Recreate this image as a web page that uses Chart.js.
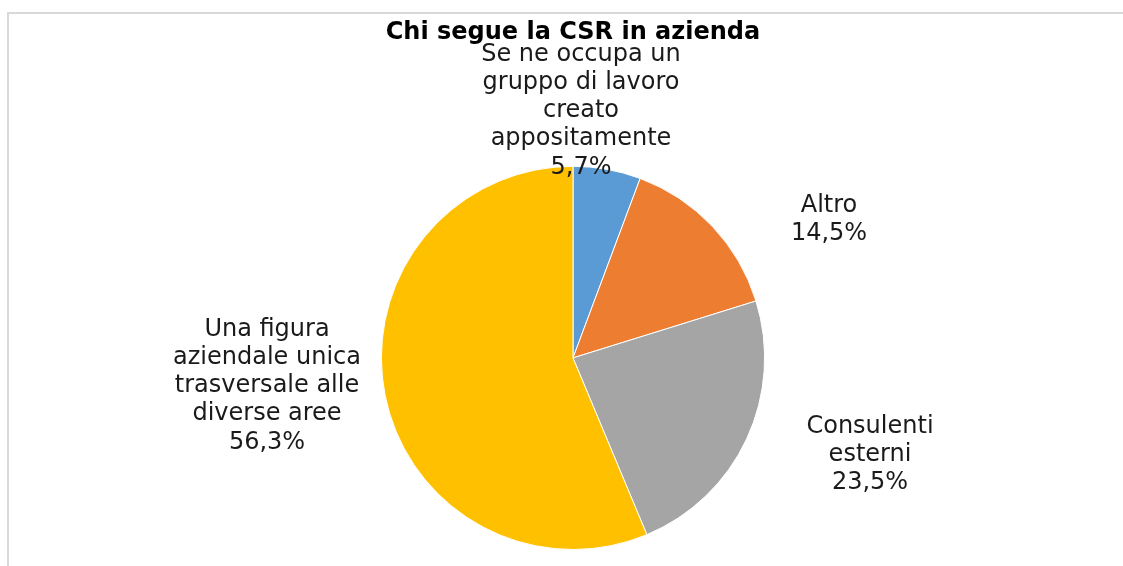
<!DOCTYPE html>
<html>
<head>
<meta charset="utf-8">
<script src="https://cdn.jsdelivr.net/npm/chart.js@4.4.0/dist/chart.umd.min.js"></script>
<style>
    html, body { margin: 0; padding: 0; background: #fff; overflow: hidden; }
    #frame { position: absolute; left: 7px; top: 12px; width: 1200px; height: 600px; border: 2px solid #d9d9d9; }
    #wrap { position: absolute; left: 0; top: 0; width: 1123px; height: 566px; }
</style>
</head>
<body>
<div id="frame"></div>
<div id="wrap"><canvas id="myChart"></canvas></div>
<script>
var categories = [
    ['Se ne occupa un', 'gruppo di lavoro', 'creato', 'appositamente'],
    ['Altro'],
    ['Consulenti', 'esterni'],
    ['Una figura', 'aziendale unica', 'trasversale alle', 'diverse aree']
];
var values = [5.7, 14.5, 23.5, 56.3];
var colors = ['#5b9bd5', '#ed7d31', '#a5a5a5', '#ffc000'];

// where each label block sits, relative to the pie centre (dx, dy of the block centre)
var labelOffsets = [[8, -247], [256, -138], [297, 97], [-306, 28]];

var outerLabels = {
    id: 'outerLabels',
    afterDatasetsDraw: function (chart) {
        var ctx = chart.ctx;
        var meta = chart.getDatasetMeta(0);
        ctx.save();
        ctx.font = '24px "DejaVu Sans", Verdana, sans-serif';
        ctx.fillStyle = '#1a1a1a';
        ctx.textAlign = 'center';
        ctx.textBaseline = 'middle';
        meta.data.forEach(function (arc, i) {
            var lines = categories[i].concat([values[i].toFixed(1).replace('.', ',') + '%']);
            var lh = 28.3;
            var cx = arc.x + labelOffsets[i][0];
            var cy = arc.y + labelOffsets[i][1] - (lines.length - 1) * lh / 2;
            lines.forEach(function (t, j) {
                ctx.fillText(t, cx, cy + j * lh);
            });
        });
        ctx.restore();
    }
};

var ctx = document.getElementById('myChart').getContext('2d');
var myChart = new Chart(ctx, {
    type: 'pie',
    data: {
        labels: categories.map(function (c) { return c.join(' '); }),
        datasets: [{
            data: values,
            backgroundColor: colors,
            borderColor: '#ffffff',
            borderWidth: 1
        }]
    },
    options: {
        responsive: true,
        maintainAspectRatio: false,
        animation: false,
        layout: {
            padding: { top: 0, bottom: 16, left: 23, right: 0 }
        },
        plugins: {
            legend: { display: false },
            tooltip: { enabled: false },
            title: {
                display: true,
                text: 'Chi segue la CSR in azienda',
                color: '#000',
                font: { family: '"DejaVu Sans", Verdana, sans-serif', size: 24, weight: 'bold', lineHeight: 1.2 },
                padding: { top: 18, bottom: 119 }
            }
        }
    },
    plugins: [outerLabels]
});
</script>
</body>
</html>
